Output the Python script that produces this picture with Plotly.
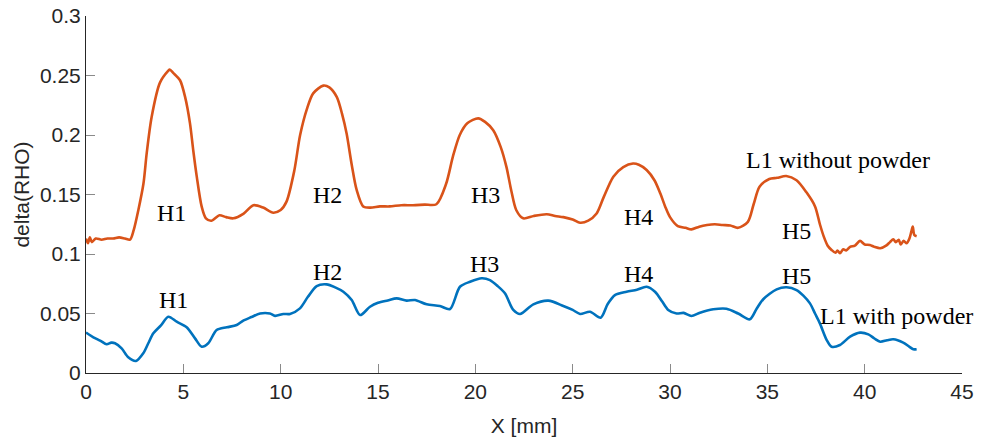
import plotly.graph_objects as go

# Orange series: L1 without powder
x_without = [0.0, 0.1, 0.2, 0.3, 0.5, 0.8, 1.1, 1.4, 1.7, 2.0, 2.26, 2.45, 2.69, 2.95, 3.12, 3.37, 3.8, 4.23, 4.3,
             4.49, 4.83, 5.09, 5.34, 5.51, 5.69, 5.94, 6.16, 6.45, 6.85, 7.2, 7.57, 8.1, 8.6, 9.1, 9.62, 10.0, 10.3,
             10.7, 11.0, 11.35, 11.67, 12.19, 12.5, 12.88, 13.15, 13.39, 13.65, 13.9, 14.24, 14.6, 15.1, 15.6, 16.2,
             16.8, 17.4, 18.0, 18.5, 18.85, 19.2, 19.6, 20.15, 20.5, 20.92, 21.3, 21.6, 21.85, 22.1, 22.46, 23.0,
             23.67, 24.1, 24.52, 25.0, 25.38, 25.8, 26.23, 26.6, 27.09, 27.6, 28.1, 28.4, 28.8, 29.2, 29.5, 29.75,
             30.0, 30.4, 30.8, 31.1, 31.5, 31.9, 32.3, 32.7, 33.1, 33.5, 34.0, 34.3, 34.6, 35.1, 35.5, 35.97, 36.5,
             37.0, 37.45, 37.7, 37.9, 38.1, 38.3, 38.5, 38.6, 38.73, 38.9, 39.05, 39.25, 39.5, 39.76, 40.0, 40.27,
             40.5, 40.8, 41.1, 41.3, 41.47, 41.6, 41.75, 41.85, 42.0, 42.16, 42.3, 42.4, 42.47, 42.55, 42.67]
y_without = [0.113, 0.109, 0.114, 0.110, 0.113, 0.112, 0.113, 0.113, 0.114, 0.113, 0.112, 0.120, 0.137, 0.159, 0.185,
             0.215, 0.244, 0.254, 0.255, 0.252, 0.246, 0.232, 0.210, 0.187, 0.165, 0.140, 0.130, 0.128, 0.1325, 0.131,
             0.130, 0.134, 0.141, 0.139, 0.1347, 0.137, 0.144, 0.170, 0.200, 0.222, 0.235, 0.2415, 0.240, 0.232,
             0.218, 0.201, 0.175, 0.154, 0.140, 0.139, 0.140, 0.140, 0.141, 0.141, 0.1415, 0.1418, 0.159, 0.182,
             0.200, 0.210, 0.214, 0.211, 0.204, 0.190, 0.173, 0.153, 0.137, 0.130, 0.132, 0.1334, 0.132, 0.131,
             0.129, 0.1263, 0.128, 0.134, 0.148, 0.165, 0.173, 0.176, 0.175, 0.1706, 0.162, 0.151, 0.140, 0.131,
             0.1235, 0.122, 0.1207, 0.123, 0.1244, 0.125, 0.1244, 0.124, 0.122, 0.127, 0.142, 0.1566, 0.163, 0.164,
             0.1655, 0.162, 0.152, 0.140, 0.125, 0.1146, 0.107, 0.1034, 0.101, 0.103, 0.1006, 0.104, 0.103, 0.106,
             0.107, 0.111, 0.108, 0.1076, 0.106, 0.1048, 0.107, 0.110, 0.1124, 0.110, 0.112, 0.108, 0.111, 0.109,
             0.113, 0.119, 0.123, 0.116, 0.115]

# Blue series: L1 with powder
x_with = [0.0, 0.38, 0.75, 1.06, 1.3, 1.49, 1.83, 2.17, 2.57, 2.94, 3.2, 3.46, 3.85, 4.23, 4.66, 5.17, 5.6, 5.94,
          6.28, 6.71, 7.23, 7.74, 8.08, 8.5, 8.94, 9.45, 9.71, 10.14, 10.48, 10.99, 11.4, 11.85, 12.36, 12.8, 13.22,
          13.65, 14.08, 14.59, 15.0, 15.5, 15.96, 16.47, 16.9, 17.5, 18.18, 18.7, 19.21, 19.73, 20.33, 20.75, 21.15,
          21.52, 21.95, 22.3, 22.98, 23.75, 24.52, 25.0, 25.38, 25.89, 26.44, 26.8, 27.17, 27.77, 28.3, 28.8, 29.23,
          29.6, 29.91, 30.34, 30.7, 31.1, 31.54, 32.22, 32.9, 33.5, 34.1, 34.45, 34.79, 35.48, 35.99, 36.5, 36.85,
          37.19, 37.45, 37.7, 38.05, 38.3, 38.73, 39.25, 39.76, 40.19, 40.5, 40.8, 41.15, 41.47, 41.98, 42.3, 42.5,
          42.67]
y_with = [0.034, 0.030, 0.027, 0.0241, 0.0255, 0.025, 0.0207, 0.0132, 0.0101, 0.0165, 0.025, 0.0333, 0.040, 0.0473,
          0.0431, 0.0384, 0.0291, 0.0221, 0.025, 0.0361, 0.0384, 0.0403, 0.044, 0.047, 0.050, 0.050, 0.048, 0.0496,
          0.0496, 0.0543, 0.064, 0.0731, 0.0745, 0.072, 0.0683, 0.0613, 0.0487, 0.0557, 0.059, 0.061, 0.0627, 0.0608,
          0.0613, 0.0577, 0.0563, 0.0538, 0.0725, 0.0767, 0.0796, 0.0781, 0.073, 0.067, 0.053, 0.0496, 0.0577,
          0.0608, 0.0563, 0.053, 0.0496, 0.0515, 0.0465, 0.058, 0.0655, 0.0683, 0.070, 0.0725, 0.0683, 0.060, 0.053,
          0.050, 0.0505, 0.0479, 0.0507, 0.0535, 0.054, 0.050, 0.0451, 0.054, 0.062, 0.0703, 0.072, 0.0697, 0.065,
          0.0585, 0.050, 0.0417, 0.0277, 0.0221, 0.0235, 0.0305, 0.0339, 0.0325, 0.029, 0.0263, 0.0275, 0.0283,
          0.0255, 0.022, 0.0199, 0.020]

# Text annotations
label_text = ["H1", "H2", "H3", "H4", "H5", "L1 without powder",
              "H1", "H2", "H3", "H4", "H5", "L1 with powder"]
label_x = [4.37, 12.43, 20.5, 28.36, 36.52, 38.63, 4.52, 12.43, 20.45, 28.36, 36.52, 41.66]
label_y = [0.1345, 0.1496, 0.1496, 0.131, 0.119, 0.179, 0.0613, 0.0849, 0.0916, 0.0832, 0.0815, 0.0479]

x_ticks = [0, 5, 10, 15, 20, 25, 30, 35, 40, 45]
y_ticks = [0, 0.05, 0.1, 0.15, 0.2, 0.25, 0.3]
y_tick_text = ["0", "0.05", "0.1", "0.15", "0.2", "0.25", "0.3"]

fig = go.Figure()
fig.add_trace(go.Scatter(x=x_without, y=y_without, mode="lines",
                         line=dict(color="#D95319", width=2.6, shape="spline", smoothing=0.8),
                         showlegend=False))
fig.add_trace(go.Scatter(x=x_with, y=y_with, mode="lines",
                         line=dict(color="#0072BD", width=2.6, shape="spline", smoothing=0.8),
                         showlegend=False))

for t, xx, yy in zip(label_text, label_x, label_y):
    fig.add_annotation(x=xx, y=yy, text=t, showarrow=False,
                       font=dict(family="Liberation Serif, Times New Roman, serif", size=24, color="#000000"))

axis_font = dict(family="Liberation Sans, Arial, Helvetica, sans-serif", size=21, color="#262626")

fig.update_layout(
    width=981, height=439,
    margin=dict(l=86, r=19, t=16, b=66),
    paper_bgcolor="white", plot_bgcolor="white",
    xaxis=dict(range=[0, 45], tickvals=x_ticks, ticks="inside", ticklen=9, tickcolor="#8a8a8a",
               showline=True, linecolor="#262626", linewidth=1, showgrid=False, zeroline=False,
               tickfont=axis_font, automargin=False, ticklabeloverflow="allow",
               title=dict(text="X [mm]", font=axis_font, standoff=16)),
    yaxis=dict(range=[0, 0.3], tickvals=y_ticks, ticktext=y_tick_text, ticks="inside", ticklen=9,
               tickcolor="#8a8a8a", showline=True, linecolor="#262626", linewidth=1, showgrid=False,
               zeroline=False, tickfont=axis_font, automargin=False, ticklabeloverflow="allow",
               title=dict(text="delta(RHO)", font=axis_font, standoff=4)),
)

# remove the default 8px body margin so the figure fills the window exactly
fig.write_html("out.html", config={"displayModeBar": False},
               post_script="document.body.style.margin='0';")
